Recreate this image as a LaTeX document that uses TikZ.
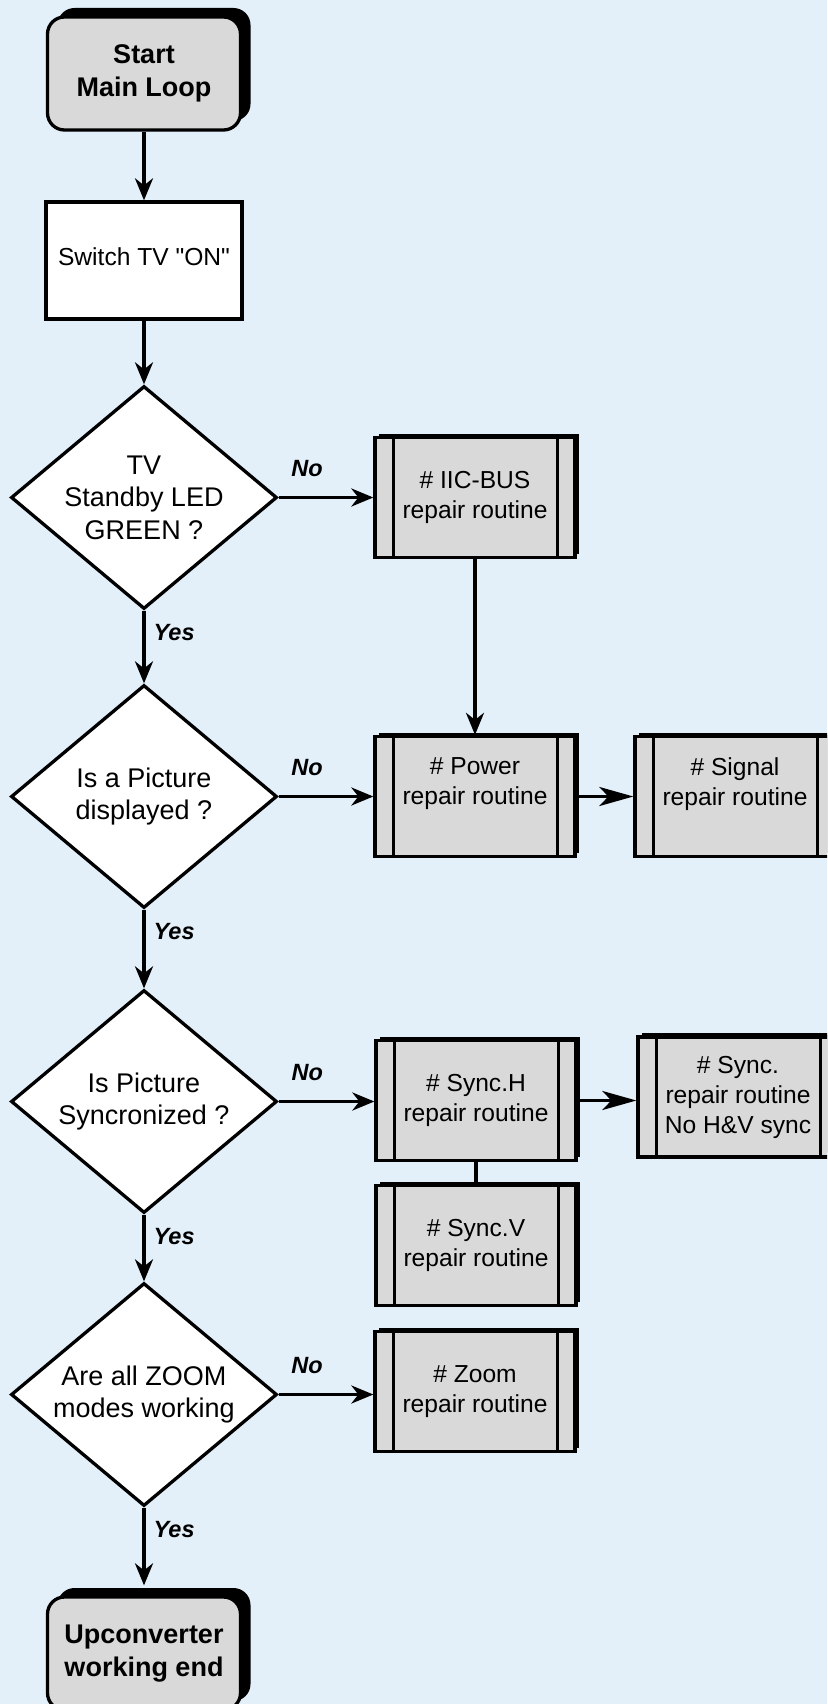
\documentclass[tikz,border=0pt]{standalone}
\usepackage{fontspec}
\setmainfont{Liberation Sans}[Ligatures=TeXOff]
\usetikzlibrary{arrows.meta,shapes.geometric,shadows}
\definecolor{sky}{HTML}{E3F0FA}
\definecolor{boxgrey}{HTML}{D9D9D9}
\newcommand{\BoxFont}{\fontsize{24.6}{30}\selectfont}
\newcommand{\AskFont}{\fontsize{27}{32.5}\selectfont}
\newcommand{\EndFont}{\fontsize{27}{33}\selectfont\bfseries}
\newcommand{\TagFont}{\fontsize{23.5}{26}\selectfont\bfseries\itshape}

\begin{document}
\begin{tikzpicture}[x=1pt,y=1pt, line width=3.3pt,
    flow/.style={-{Stealth[length=22pt,width=18pt,inset=7pt]}},
    longflow/.style={-{Stealth[length=34pt,width=19pt,inset=9pt]}},
    terminal/.style={draw, fill=boxgrey, rounded corners=17pt, minimum width=193pt, minimum height=113pt,
      align=center, font=\EndFont, general shadow={fill=black, shadow xshift=10pt, shadow yshift=9pt}},
    action/.style={draw, fill=white, minimum width=196pt, minimum height=117pt, align=center, font=\BoxFont},
    ask/.style={draw, fill=white, diamond, inner sep=-8pt, minimum width=266pt, minimum height=223pt,
      align=center, font=\AskFont},
    repair/.style={draw, fill=boxgrey, minimum width=200pt, minimum height=120pt, align=center, font=\BoxFont,
      general shadow={fill=black, shadow xshift=4pt, shadow yshift=4pt},
      path picture={\draw[line width=3pt]
        ([xshift=18pt]path picture bounding box.north west) -- ([xshift=18pt]path picture bounding box.south west)
        ([xshift=-18pt]path picture bounding box.north east) -- ([xshift=-18pt]path picture bounding box.south east);}},
    tag/.style={font=\TagFont, inner sep=0pt}]
  \useasboundingbox (0,0) rectangle (827,-1704);
  \fill[sky] (0,0) rectangle (827,-1704);
  \clip (0,0) rectangle (827,-1704);
  % main column
  \node[terminal] (start) at (144,-73.5) {Start\\Main Loop};
  \node[action] (tvon) at (144,-260.5) {\raisebox{7pt}{Switch TV "ON"}};
  \node[ask] (q1) at (144,-497.5) {TV\\Standby LED\\GREEN ?};
  \node[ask] (q2) at (144,-796.5) {Is a Picture\\displayed ?};
  \node[ask] (q3) at (144,-1101.5) {Is Picture\\Syncronized ?};
  \node[ask] (q4) at (144,-1394.5) {Are all ZOOM\\modes working};
  \node[terminal] (stop) at (144,-1653.5) {Upconverter\\working end};
  % repair routines
  \node[repair] (iic) at (475,-497.5) {\# IIC-BUS\\repair routine};
  \node[repair] (power) at (475,-796.5) {\# Power\\repair routine\\\mbox{}};
  \node[repair] (signal) at (735,-796.5) {\# Signal\\repair routine\\\mbox{}};
  \node[repair] (synch) at (476,-1100.5) {\# Sync.H\\repair routine};
  \node[repair] (sync) at (738,-1097) {\# Sync.\\repair routine\\No H\&V sync};
  \node[repair] (syncv) at (476,-1245.5) {\# Sync.V\\repair routine};
  \node[repair] (zoom) at (475,-1391.5) {\# Zoom\\repair routine};
  % connectors
  \draw[flow] (start) -- (tvon);
  \draw[flow] (tvon) -- (q1);
  \foreach \a/\b in {q1/q2,q2/q3,q3/q4}{
    \draw[flow] (\a.south) -- node[tag, pos=0, anchor=north west, xshift=8pt, yshift=-12pt]{Yes} (\b.north);}
  \draw[flow, shorten >=10pt] (q4.south) -- node[tag, pos=0, anchor=north west, xshift=8pt, yshift=-12pt]{Yes} (stop.north);
  \foreach \a/\b in {q1/iic,q2/power,q3/synch,q4/zoom}{
    \draw[flow] (\a.east) -- node[tag, pos=0.3, anchor=south, yshift=19pt]{No} (\a.east -| \b.west);}
  \draw[flow] (iic.south) -- (power.north);
  \draw[longflow] (power.east) -- (power.east -| signal.west);
  \draw[longflow] (synch.east) -- (synch.east -| sync.west);
  \draw (synch) -- (syncv);
\end{tikzpicture}
\end{document}
